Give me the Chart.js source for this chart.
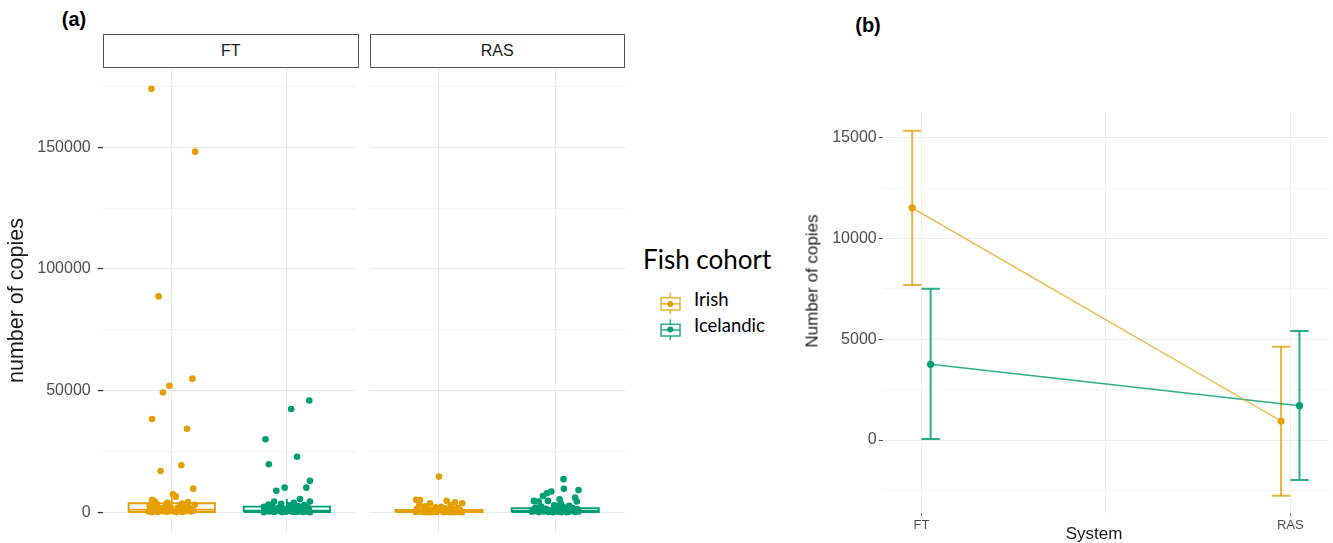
<!DOCTYPE html>
<html><head><meta charset="utf-8">
<script src="https://cdn.jsdelivr.net/npm/chart.js@4.4.1/dist/chart.umd.min.js"></script>
<style>
html,body{margin:0;padding:0;background:#fff;}
body{width:1333px;height:543px;position:relative;overflow:hidden;font-family:"Liberation Sans",Arial,sans-serif;}
canvas{position:absolute;}
.t{position:absolute;line-height:1;white-space:nowrap;}
.cc{transform:translate(-50%,-50%);}
.lc{transform:translate(0,-50%);}
.strip{position:absolute;box-sizing:border-box;border:1.3px solid #555;background:#fff;font-size:16px;color:#1a1a1a;display:flex;align-items:center;justify-content:center;}
.leg{font-family:Lato,"Open Sans",sans-serif;color:#000;}
</style></head>
<body>
<div class="t cc" style="left:74px;top:19px;font-weight:bold;font-size:20px;color:#000;">(a)</div>
<div class="t cc" style="left:868px;top:25px;font-weight:bold;font-size:20px;color:#000;">(b)</div>
<div class="strip" style="left:103px;top:33.5px;width:255.5px;height:34.5px;">FT</div>
<div class="strip" style="left:369.5px;top:33.5px;width:255.5px;height:34.5px;">RAS</div>
<canvas id="cFT" width="360" height="483" style="left:0;top:60px"></canvas>
<canvas id="cRAS" width="270" height="483" style="left:360px;top:60px"></canvas>
<canvas id="cB" width="538" height="443" style="left:795px;top:100px"></canvas>

<div class="t lc leg" style="left:643px;top:259px;font-size:26px;">Fish cohort</div>
<svg width="22" height="26" style="position:absolute;left:660px;top:291px">
 <g stroke="rgba(230,159,0,0.75)" stroke-width="1.6" fill="none">
  <line x1="10.3" y1="1.7" x2="10.3" y2="6.7"/><line x1="10.3" y1="19" x2="10.3" y2="23"/>
  <rect x="1" y="6.7" width="19" height="12.3"/><line x1="1" y1="12.9" x2="20" y2="12.9"/>
 </g><circle cx="10.3" cy="13" r="3" fill="#E69F00"/>
</svg>
<svg width="22" height="26" style="position:absolute;left:660px;top:317px">
 <g stroke="rgba(0,158,115,0.8)" stroke-width="1.6" fill="none">
  <line x1="10.3" y1="2.3" x2="10.3" y2="7.3"/><line x1="10.3" y1="19" x2="10.3" y2="23"/>
  <rect x="1" y="7.3" width="19" height="11.7"/><line x1="1" y1="13" x2="20" y2="13"/>
 </g><circle cx="10.3" cy="12.6" r="3" fill="#009E73"/>
</svg>
<div class="t lc leg" style="left:694px;top:298.5px;font-size:18.5px;">Irish</div>
<div class="t lc leg" style="left:694px;top:324.5px;font-size:18.5px;">Icelandic</div>

<div class="t cc" style="left:1094px;top:533px;font-size:17px;color:#1a1a1a;">System</div>
<div class="t cc" style="left:812px;top:281px;font-size:17px;color:#1a1a1a;transform:translate(-50%,-50%) rotate(-90deg);">Number of copies</div>

<script>
// ---------- data ----------
const cohorts = ['Irish', 'Icelandic'];
const systems = ['FT', 'RAS'];

// panel (a): copies per fish, with the horizontal jitter (category units)
const ftIrishCopies = [174000,148200,88700,54900,52000,49200,38300,34300,19300,16900,9700,7400,6400,5100,4500,4200,3900,3600,3300,3100,3000,2900,2600,2500,2500,2200,2100,2000,1900,1800,1600,1500,1300,1200,1100,1100,1000,900,800,700,600,600,500,400,400,350,300,250,200,150,100,100,50,50];
const ftIrishJitter = [-0.177,0.203,-0.114,0.18,-0.02,-0.077,-0.171,0.132,0.083,-0.097,0.186,0.01,0.035,-0.171,-0.15,0.14,-0.04,0.09,-0.13,0.2,-0.19,0.08,-0.05,-0.19,0.1,-0.14,0.14,-0.01,-0.06,0.05,-0.09,0.18,0.11,-0.18,-0.02,0.07,0.16,-0.1,0.15,0.06,-0.16,0.19,0,-0.07,0.12,-0.11,-0.2,0.17,0.03,-0.04,-0.12,0.09,0.04,-0.17];

const ftIcelandicCopies = [45900,42400,30000,22800,19700,12900,10100,10100,8800,5400,4400,4400,3900,3500,3200,3000,2800,2600,2400,2200,2000,1900,1700,1500,1400,1200,1100,1000,900,800,700,600,500,450,400,350,300,250,200,150,100,100,50,50,30,30];
const ftIcelandicJitter = [0.194,0.037,-0.186,0.088,-0.157,0.2,0.169,-0.02,-0.092,0.114,0.2,-0.111,0.06,-0.05,-0.16,0.15,0.02,-0.13,0.1,-0.2,0.18,-0.07,0.05,-0.18,0.13,-0.03,0.19,-0.14,0.08,-0.09,0.16,0.01,-0.19,0.12,-0.06,0.04,-0.15,0.17,-0.01,0.09,-0.11,0.14,-0.04,0.06,0.2,-0.2];

const rasIrishCopies = [14650,5100,5000,4650,4100,3700,3700,3200,2800,2400,2200,2000,1800,1600,1400,1300,1100,1000,900,800,700,600,500,450,400,350,300,250,200,150,120,100,80,60,50,40,30,20,20,10];
const rasIrishJitter = [0,-0.197,-0.163,0.066,0.137,0.2,-0.077,-0.17,0.1,-0.12,0.02,-0.03,0.16,0.05,-0.19,0.12,-0.08,0.18,0,-0.14,0.08,-0.05,0.14,-0.18,0.03,-0.1,0.19,0.06,-0.15,0.11,-0.02,-0.2,0.17,-0.06,0.04,0.13,-0.12,0.2,-0.09,0.09];

const rasIcelandicCopies = [13600,9600,9100,8500,7800,6700,6000,5350,4650,4650,4400,4400,3500,3000,2800,2600,2300,2100,1900,1700,1600,1400,1300,1200,1000,900,800,700,600,500,450,400,350,300,250,200,150,100,80,60,40,20,20];
const rasIcelandicJitter = [0.071,0.074,0.2,-0.034,-0.072,-0.106,0.171,0.037,-0.184,-0.063,-0.143,0.185,0.05,0.04,-0.01,0.12,-0.12,0.07,-0.17,0.15,0.01,-0.08,0.19,0.1,-0.19,0.03,-0.13,0.16,-0.04,0.08,-0.16,0.13,-0.1,0.2,0.02,-0.2,0.11,-0.06,0.17,-0.14,0.05,-0.02,0.1];

// box statistics: FT Irish, FT Icelandic, RAS Irish, RAS Icelandic
const boxLower  = [50, 30, 10, 20];
const boxQ1     = [100, 100, 50, 100];
const boxMedian = [1100, 600, 400, 600];
const boxQ3     = [3700, 2300, 950, 1650];
const boxUpper  = [7400, 5400, 2200, 4100];

// panel (b): mean and interval per system
const irishMean = [11530, 943];
const irishLow  = [7700, -2765];
const irishHigh = [15350, 4632];
const icelandicMean = [3758, 1703];
const icelandicLow  = [50, -1986];
const icelandicHigh = [7512, 5412];

// ticks
const yTicksA  = [0, 25000, 50000, 75000, 100000, 125000, 150000, 175000];
const yLabelsA = ['0', '', '50000', '', '100000', '', '150000', ''];
const yTicksB  = [-2500, 0, 2500, 5000, 7500, 10000, 12500, 15000];
const yLabelsB = ['', '0', '', '5000', '', '10000', '', '15000'];
const xTicksB  = [1, 1.5, 2];
const xLabelsB = ['FT', '', 'RAS'];

// ---------- styles ----------
const ORANGE = '#E69F00', GREEN = '#009E73';
const ORANGE_L = 'rgba(230,159,0,0.75)', GREEN_L = 'rgba(0,158,115,0.82)';
Chart.defaults.font.family = '"Liberation Sans", Arial, sans-serif';
Chart.defaults.animation = false;
const BOX_HALF = 0.375;

function label(values, labels, v) { const i = values.indexOf(v); return i >= 0 ? labels[i] : ''; }
function isMajorA(v) { return label(yTicksA, yLabelsA, v) !== ''; }
function isMajorB(v) { return label(yTicksB, yLabelsB, v) !== ''; }
function noPad(s) { s.paddingTop = 0; s.paddingBottom = 0; s.paddingLeft = 0; s.paddingRight = 0; }

function seg(points, color, width, order) {
  return { data: points, showLine: true, borderColor: color, borderWidth: width, pointRadius: 0,
           fill: false, order: order, borderJoinStyle: 'miter', borderCapStyle: 'butt' };
}

function boxSets(c, i, color) {
  const h = BOX_HALF;
  return [
    seg([{x:c-h,y:boxQ1[i]},{x:c+h,y:boxQ1[i]},{x:c+h,y:boxQ3[i]},{x:c-h,y:boxQ3[i]},{x:c-h,y:boxQ1[i]}], color, 1.8, 5),
    seg([{x:c-h,y:boxMedian[i]},{x:c+h,y:boxMedian[i]}], color, 1.8, 5),
    seg([{x:c,y:boxQ3[i]},{x:c,y:boxUpper[i]}], color, 1.8, 5),
    seg([{x:c,y:boxQ1[i]},{x:c,y:boxLower[i]}], color, 1.8, 5)
  ];
}
function pointSet(copies, jitter, c, color) {
  return { data: copies.map((v, k) => ({x: c + jitter[k], y: v})), pointRadius: 3.3,
           pointBackgroundColor: color, pointBorderWidth: 0, showLine: false, order: 1 };
}

function facet(id, groups, showY, padding) {
  const datasets = [];
  groups.forEach(g => { datasets.push(...boxSets(g.c, g.box, g.color)); datasets.push(pointSet(g.copies, g.jitter, g.c, g.color)); });
  new Chart(document.getElementById(id), {
    type: 'scatter',
    data: { datasets },
    options: {
      responsive: false, devicePixelRatio: 1, layout: { padding },
      plugins: { legend: { display: false }, tooltip: { enabled: false } },
      scales: {
        x: { type: 'linear', min: 0.4, max: 2.6,
             afterBuildTicks: s => { s.ticks = [{value:1},{value:2}]; },
             ticks: { display: false }, border: { display: false },
             grid: { color: '#ebebeb', lineWidth: 1.1, drawTicks: false },
             afterFit: s => { s.height = 0; noPad(s); } },
        y: { type: 'linear', min: -8700, max: 182700,
             afterBuildTicks: s => { s.ticks = yTicksA.map(v => ({value: v})); },
             ticks: { display: showY, color: '#4d4d4d', font: { size: 16 }, padding: 7,
                      callback: v => label(yTicksA, yLabelsA, v) },
             border: { display: false },
             grid: { drawTicks: showY, tickLength: 5, tickWidth: 1.3,
                     color: c => isMajorA(c.tick.value) ? '#e9e9e9' : '#f3f3f3',
                     lineWidth: c => isMajorA(c.tick.value) ? 1.1 : 0.8,
                     tickColor: c => isMajorA(c.tick.value) ? '#333' : 'rgba(0,0,0,0)' },
             title: { display: showY, text: 'number of copies', color: '#1a1a1a', font: { size: 21.5 }, padding: { top: 4.6, bottom: 0 } },
             afterFit: s => { s.width = showY ? 102.7 : 0; noPad(s); } }
      }
    }
  });
}

facet('cFT', [
  { c: 1, copies: ftIrishCopies, jitter: ftIrishJitter, color: ORANGE, box: 0 },
  { c: 2, copies: ftIcelandicCopies, jitter: ftIcelandicJitter, color: GREEN, box: 1 }
], true, { left: 0, right: 1.7, top: 7.7, bottom: 9.6 });

facet('cRAS', [
  { c: 1, copies: rasIrishCopies, jitter: rasIrishJitter, color: ORANGE, box: 2 },
  { c: 2, copies: rasIcelandicCopies, jitter: rasIcelandicJitter, color: GREEN, box: 3 }
], false, { left: 9.3, right: 5, top: 7.7, bottom: 9.6 });

// ---------- panel (b) ----------
const DODGE = 0.025, CAP = 0.025;
const bSets = [];
function errorBars(means, lows, highs, shift, colorL, colorD) {
  systems.forEach((s, i) => {
    const x = i + 1 + shift;
    bSets.push(seg([{x, y: lows[i]}, {x, y: highs[i]}], colorL, 2, 4));
    bSets.push(seg([{x: x - CAP, y: highs[i]}, {x: x + CAP, y: highs[i]}], colorL, 2, 4));
    bSets.push(seg([{x: x - CAP, y: lows[i]}, {x: x + CAP, y: lows[i]}], colorL, 2, 4));
  });
  bSets.push(seg(systems.map((s, i) => ({x: i + 1 + shift, y: means[i]})), colorL, 1.4, 3));
  bSets.push({ data: systems.map((s, i) => ({x: i + 1 + shift, y: means[i]})), pointRadius: 3.6,
               pointBackgroundColor: colorD, pointBorderWidth: 0, showLine: false, order: 1 });
}
errorBars(irishMean, irishLow, irishHigh, -DODGE, ORANGE_L, ORANGE);
errorBars(icelandicMean, icelandicLow, icelandicHigh, DODGE, GREEN_L, GREEN);

new Chart(document.getElementById('cB'), {
  type: 'scatter',
  data: { datasets: bSets },
  options: {
    responsive: false, devicePixelRatio: 1,
    layout: { padding: { left: 0, right: 1.7, top: 11.7, bottom: 0 } },
    plugins: { legend: { display: false }, tooltip: { enabled: false } },
    scales: {
      x: { type: 'linear', min: 0.895, max: 2.105,
           afterBuildTicks: s => { s.ticks = xTicksB.map(v => ({value: v})); },
           ticks: { color: '#4d4d4d', font: { size: 13 }, padding: 2, maxRotation: 0, autoSkip: false,
                    callback: v => label(xTicksB, xLabelsB, v) },
           border: { display: false },
           grid: { color: '#efefef', lineWidth: 1, tickLength: 3,
                   tickColor: c => label(xTicksB, xLabelsB, c.tick.value) ? '#777' : 'rgba(0,0,0,0)' },
           afterFit: s => { s.height = 30; noPad(s); } },
      y: { type: 'linear', min: -3624, max: 16300,
           afterBuildTicks: s => { s.ticks = yTicksB.map(v => ({value: v})); },
           ticks: { color: '#4d4d4d', font: { size: 16 }, padding: 2,
                    callback: v => label(yTicksB, yLabelsB, v) },
           border: { display: false },
           grid: { tickLength: 4, tickWidth: 1,
                   color: c => isMajorB(c.tick.value) ? '#ededed' : '#f5f5f5',
                   tickColor: c => isMajorB(c.tick.value) ? '#555' : 'rgba(0,0,0,0)' },
           afterFit: s => { s.width = 87.7; noPad(s); } }
    }
  }
});
</script>
</body></html>
